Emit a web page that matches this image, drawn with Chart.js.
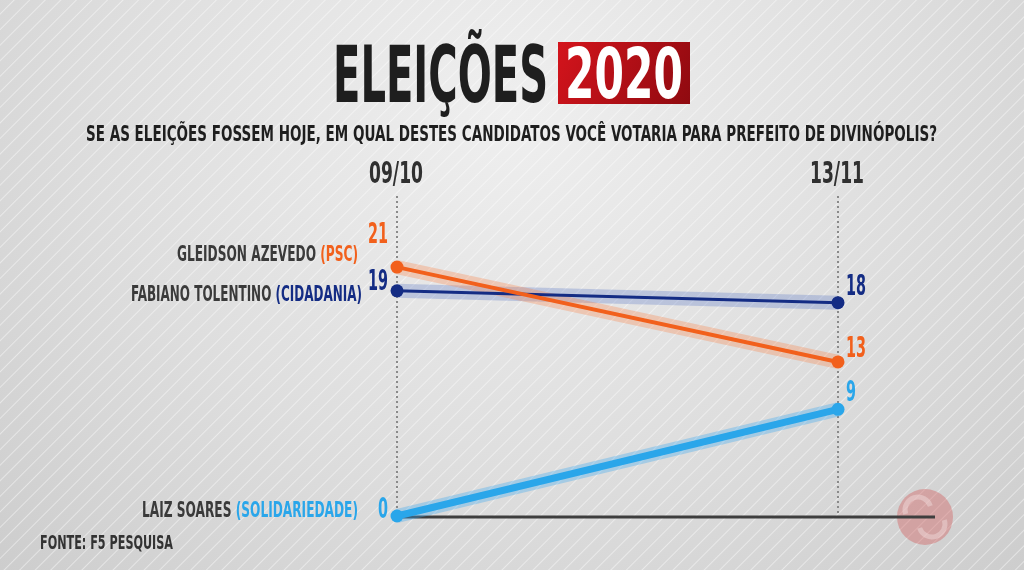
<!DOCTYPE html>
<html>
<head>
<meta charset="utf-8">
<script src="https://cdn.jsdelivr.net/npm/chart.js@4"></script>
<style>
  html, body { margin: 0; padding: 0; }
  body {
    width: 1024px; height: 570px; overflow: hidden;
    background:
      repeating-linear-gradient(135deg, rgba(255,255,255,0) 0px, rgba(255,255,255,0) 9px, rgba(255,255,255,0.45) 10px, rgba(255,255,255,0) 11px),
      radial-gradient(ellipse at 50% 20%, #efefef 0%, #dedede 55%, #cdcdcd 100%);
  }
  #wrap { position: absolute; left: 0; top: 0; width: 1024px; height: 570px; }
</style>
</head>
<body>
<div id="wrap"><canvas id="grafico" width="1024" height="570"></canvas></div>
<script>
// dados da pesquisa (F5 Pesquisa)
const datas = ["09/10", "13/11"];
const candidatos = ["GLEIDSON AZEVEDO", "FABIANO TOLENTINO", "LAIZ SOARES"];
const partidos = ["(PSC)", "(CIDADANIA)", "(SOLIDARIEDADE)"];
const gleidson = [21, 13];
const fabiano = [19, 18];
const laiz = [0, 9];

const titulo = "ELEIÇÕES";
const ano = "2020";
const pergunta = "SE AS ELEIÇÕES FOSSEM HOJE, EM QUAL DESTES CANDIDATOS VOCÊ VOTARIA PARA PREFEITO DE DIVINÓPOLIS?";
const fonte = "FONTE: F5 PESQUISA";

// estilos
const cores = ["#f2601c", "#142c84", "#2aa6ea"];
const halos = ["rgba(255,120,50,0.28)", "rgba(90,120,200,0.30)", "rgba(60,170,240,0.35)"];
const espessuras = [4, 3, 7];
const FONTE = "'Liberation Sans Narrow', 'DejaVu Sans Condensed', 'Liberation Sans', sans-serif";

const series = [gleidson, fabiano, laiz];

// escreve texto em partes coloridas, comprimido na largura pedida
function escrever(ctx, partes, x, y, tam, largura, alinhar) {
  ctx.save();
  ctx.font = "bold " + tam + "px " + FONTE;
  ctx.textBaseline = "alphabetic";
  ctx.textAlign = "left";
  let total = 0;
  partes.forEach(p => total += ctx.measureText(p[0]).width);
  const sx = largura ? largura / total : 1;
  let x0 = x;
  if (alinhar === "right") x0 = x - total * sx;
  if (alinhar === "center") x0 = x - total * sx / 2;
  ctx.translate(x0, y);
  ctx.scale(sx, 1);
  let cx = 0;
  partes.forEach(p => {
    ctx.fillStyle = p[1];
    ctx.fillText(p[0], cx, 0);
    cx += ctx.measureText(p[0]).width;
  });
  ctx.restore();
}

const datasets = [];
series.forEach((s, i) => {
  datasets.push({
    data: s,
    borderColor: cores[i],
    backgroundColor: cores[i],
    borderWidth: espessuras[i],
    pointRadius: 6.5,
    pointHoverRadius: 6.5,
    pointBorderWidth: 0,
    tension: 0,
    clip: false,
    order: i + 1
  });
});
series.forEach((s, i) => {
  datasets.push({
    data: s,
    borderColor: halos[i],
    borderWidth: 14,
    pointRadius: 0,
    tension: 0,
    clip: false,
    order: 10
  });
});

const decoracao = {
  id: "decoracao",
  beforeDatasetsDraw(chart) {
    const ctx = chart.ctx;
    const x = chart.scales.x;
    const y = chart.scales.y;
    const area = chart.chartArea;
    // logo (fica por baixo da linha de base)
    ctx.save();
    ctx.globalAlpha = 0.4;
    ctx.fillStyle = "#d25a5a";
    ctx.beginPath();
    ctx.arc(925, 517, 28, 0, Math.PI * 2);
    ctx.fill();
    ctx.strokeStyle = "#f6e6e6";
    ctx.lineWidth = 5;
    ctx.beginPath();
    ctx.arc(918, 510, 13, Math.PI * 0.9, Math.PI * 1.9);
    ctx.stroke();
    ctx.beginPath();
    ctx.arc(932, 524, 13, -Math.PI * 0.1, Math.PI * 0.9);
    ctx.stroke();
    ctx.restore();
    // linhas pontilhadas das datas
    ctx.save();
    ctx.strokeStyle = "#8a8a8a";
    ctx.lineWidth = 2;
    ctx.setLineDash([2, 3]);
    datas.forEach((d, i) => {
      const px = x.getPixelForValue(i);
      ctx.beginPath();
      ctx.moveTo(px, area.top);
      ctx.lineTo(px, area.bottom);
      ctx.stroke();
    });
    ctx.restore();
    // linha de base
    const y0 = y.getPixelForValue(0);
    ctx.save();
    ctx.strokeStyle = "#3e3e3e";
    ctx.lineWidth = 3;
    ctx.beginPath();
    ctx.moveTo(x.getPixelForValue(0), y0 + 1);
    ctx.lineTo(935, y0 + 1);
    ctx.stroke();
    ctx.restore();
    // datas no topo
    datas.forEach((d, i) => {
      escrever(ctx, [[d, "#303030"]], x.getPixelForValue(i) - 1, area.top - 13, 31, 54, "center");
    });
  },
  afterDatasetsDraw(chart) {
    const ctx = chart.ctx;
    // nomes à esquerda (ajustes de posição)
    const nomeDy = [-6, 10, 1];
    const nomeDx = [-39, -35, -39];
    const larguras = [181, 231, 216];
    // valores
    const valDy = [-24, -1, 2];
    const valDyDir = [-5, -8, -8];
    series.forEach((s, i) => {
      const meta = chart.getDatasetMeta(i);
      const p0 = meta.data[0];
      const p1 = meta.data[1];
      escrever(ctx, [[candidatos[i] + " ", "#3a3a3a"], [partidos[i], cores[i]]],
        p0.x + nomeDx[i], p0.y + nomeDy[i], 22, larguras[i], "right");
      const v0 = String(s[0]);
      const v1 = String(s[1]);
      escrever(ctx, [[v0, cores[i]]], p0.x - 9, p0.y + valDy[i], 28, v0.length * 10, "right");
      escrever(ctx, [[v1, cores[i]]], p1.x + 8, p1.y + valDyDir[i], 28, v1.length * 10, "left");
    });
  },
  afterDraw(chart) {
    const ctx = chart.ctx;
    // título
    escrever(ctx, [[titulo, "#1e1e1e"]], 333, 102, 78, 215, "left");
    const g = ctx.createLinearGradient(558, 42, 690, 104);
    g.addColorStop(0, "#d4141c");
    g.addColorStop(1, "#8f0a10");
    ctx.fillStyle = g;
    ctx.fillRect(558, 42, 132, 62);
    escrever(ctx, [[ano, "#ffffff"]], 624, 98, 70, 118, "center");
    escrever(ctx, [[pergunta, "#1e1e1e"]], 86, 141, 21, 851, "left");
    escrever(ctx, [[fonte, "#333333"]], 40, 549, 19, 133, "left");
  }
};

new Chart(document.getElementById("grafico"), {
  type: "line",
  data: { labels: datas, datasets: datasets },
  options: {
    responsive: false,
    animation: false,
    layout: { padding: { left: 397, right: 186, top: 196, bottom: 54 } },
    plugins: { legend: { display: false }, tooltip: { enabled: false } },
    scales: {
      x: { type: "category", offset: false, display: false },
      y: { min: 0, max: 27, display: false }
    }
  },
  plugins: [decoracao]
});
</script>
</body>
</html>
